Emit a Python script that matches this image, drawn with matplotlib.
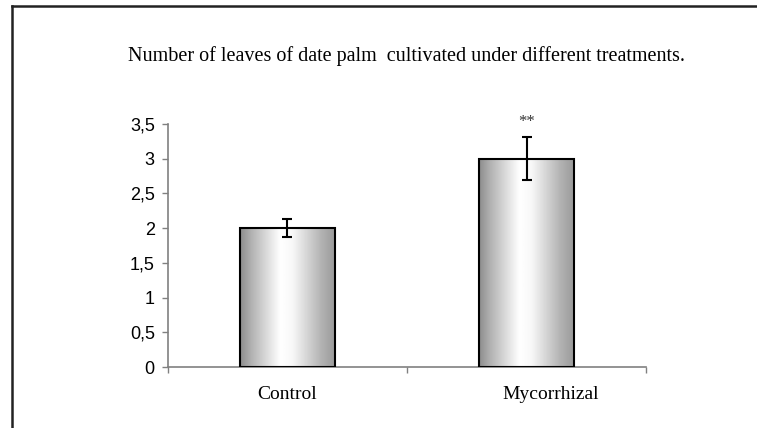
import matplotlib

matplotlib.use("Agg")
import matplotlib.pyplot as plt
import numpy as np
from matplotlib.patches import Rectangle
from matplotlib.lines import Line2D

# ── Data ──────────────────────────────────────────────────────────────────────
categories = ["Control", "Mycorrhizal"]
means = [2.0, 3.0]
errors = [0.13, 0.31]
marks = ["", "**"]

TITLE = "Number of leaves of date palm  cultivated under different treatments."
SERIF = ["Liberation Serif", "DejaVu Serif"]
SANS = ["Liberation Sans", "DejaVu Sans"]

fig = plt.figure(figsize=(7.57, 4.28), dpi=100)
fig.patch.set_facecolor("white")
ax = fig.add_axes([0.2219, 0.1425, 0.6315, 0.5678])

x = np.arange(len(categories)) + 0.5
width = 0.4

# gradient used for the bar fill (dark edges, white towards the centre-left)
grad_pos = [0.0, 0.12, 0.42, 0.55, 0.85, 1.0]
grad_val = [0.55, 0.70, 1.0, 0.97, 0.70, 0.60]
g = np.interp(np.linspace(0, 1, 256), grad_pos, grad_val)
grad = np.tile(g, (2, 1))

bars = ax.bar(x, means, width=width, facecolor="none", edgecolor="black",
              linewidth=1.5, zorder=3)
for b in bars:
    x0, y0 = b.get_x(), b.get_y()
    w, h = b.get_width(), b.get_height()
    im = ax.imshow(grad, cmap="gray", vmin=0, vmax=1, aspect="auto",
                   extent=[x0, x0 + w, y0, y0 + h], zorder=2,
                   interpolation="bilinear")
    clip = Rectangle((x0, y0), w, h, transform=ax.transData)
    im.set_clip_path(clip)

ax.errorbar(x, means, yerr=errors, fmt="none", ecolor="black",
            elinewidth=1.5, capsize=3.6, capthick=1.5, zorder=4)

for xi, m, e, s in zip(x, means, errors, marks):
    if s:
        ax.text(xi, m + e + 0.1, s, ha="center", va="bottom",
                fontsize=12, family=SERIF, color="#333333")

ax.set_xlim(0, 2)
ax.set_ylim(0, 3.5)
ax.set_yticks(np.arange(0, 3.51, 0.5))
ax.set_yticklabels([f"{v:g}".replace(".", ",") for v in np.arange(0, 3.51, 0.5)],
                   fontsize=13, family=SANS)
ax.set_xticks([0, 1, 2])
ax.set_xticklabels([])
ax.tick_params(axis="y", direction="out", length=4.5, width=1, color="#808080",
               pad=5)
ax.tick_params(axis="x", direction="out", length=4, width=1, color="#808080")

for sp in ["top", "right"]:
    ax.spines[sp].set_visible(False)
for sp in ["left", "bottom"]:
    ax.spines[sp].set_color("#808080")
    ax.spines[sp].set_linewidth(1.2)

# category labels (serif, below the axis)
label_dx = [0.0, 0.1]
for xi, lab, dx in zip(x, categories, label_dx):
    ax.text(xi + dx, -0.4, lab, ha="center", va="center",
            fontsize=14, family=SERIF, color="black")

fig.text(0.537, 0.868, TITLE, ha="center", va="center",
         fontsize=14.5, family=SERIF, color="black")

# outer frame (top and left edges)
fig.add_artist(Line2D([12 / 757, 1], [1 - 6 / 428] * 2, color="#222222",
                      linewidth=1.8, transform=fig.transFigure))
fig.add_artist(Line2D([12 / 757] * 2, [0, 1 - 6 / 428], color="#222222",
                      linewidth=1.8, transform=fig.transFigure))

fig.savefig("out.png", dpi=100, facecolor="white")
